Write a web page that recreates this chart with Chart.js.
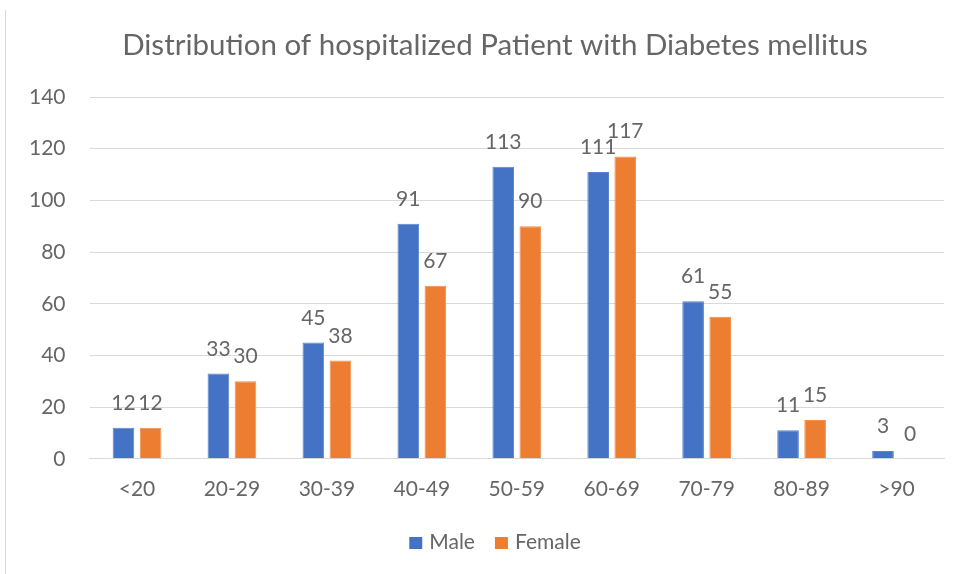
<!DOCTYPE html>
<html>
<head>
<meta charset="utf-8">
<script src="https://cdn.jsdelivr.net/npm/chart.js@4.4.1/dist/chart.umd.min.js"></script>
<style>
  html, body { margin: 0; padding: 0; background: #fff; }
  #wrap { position: relative; width: 956px; height: 574px; }
  #edge { position: absolute; left: 5px; top: 10px; width: 1px; height: 564px; background: #d9d9d9; }
  canvas { position: absolute; left: 0; top: 0; }
</style>
</head>
<body>
<div id="wrap">
  <div id="edge"></div>
  <canvas id="c" width="956" height="574"></canvas>
</div>
<script>
const categories = ["<20", "20-29", "30-39", "40-49", "50-59", "60-69", "70-79", "80-89", ">90"];
const maleValues = [12, 33, 45, 91, 113, 111, 61, 11, 3];
const femaleValues = [12, 30, 38, 67, 90, 117, 55, 15, 0];
const yTicks = [0, 20, 40, 60, 80, 100, 120, 140];
const titleText = 'Distribution of hospitalized Patient with Diabetes mellitus';

const FONT = "Lato, 'Open Sans', sans-serif";
const TEXT = "#666666";
const CENTER_X = 495;

const labelPlugin = {
  id: 'barLabels',
  afterDatasetsDraw(chart) {
    const ctx = chart.ctx;
    ctx.save();
    ctx.font = "21px " + FONT;
    ctx.fillStyle = TEXT;
    ctx.textAlign = 'center';
    ctx.textBaseline = 'alphabetic';
    chart.data.datasets.forEach((ds, i) => {
      const meta = chart.getDatasetMeta(i);
      meta.data.forEach((bar, j) => {
        ctx.fillText(String(ds.data[j]), bar.x, bar.y - 18);
      });
    });
    ctx.restore();
  }
};

// Title and legend drawn centred on the original chart frame (which is cropped on the right)
const frameTextPlugin = {
  id: 'frameText',
  afterDraw(chart) {
    const ctx = chart.ctx;
    ctx.save();
    ctx.fillStyle = TEXT;
    ctx.textBaseline = 'alphabetic';
    ctx.textAlign = 'center';
    ctx.font = "29.5px " + FONT;
    ctx.fillText(titleText, CENTER_X, 55);

    ctx.font = "21px " + FONT;
    ctx.textAlign = 'left';
    const box = 13, gapBox = 7, gapItem = 20;
    const items = chart.data.datasets.map(ds => ({ label: ds.label, color: ds.backgroundColor, w: ctx.measureText(ds.label).width }));
    let total = 0;
    items.forEach((it, i) => { total += box + gapBox + it.w + (i < items.length - 1 ? gapItem : 0); });
    let x = CENTER_X - total / 2;
    const baseline = 549;
    items.forEach(it => {
      ctx.fillStyle = it.color;
      ctx.fillRect(x, baseline - 12, box, box - 1);
      x += box + gapBox;
      ctx.fillStyle = TEXT;
      ctx.fillText(it.label, x, baseline);
      x += it.w + gapItem;
    });
    ctx.restore();
  }
};

new Chart(document.getElementById('c'), {
  type: 'bar',
  data: {
    labels: categories,
    datasets: [
      { label: 'Male', data: maleValues, backgroundColor: '#4472C4', borderColor: '#5a84cf', borderWidth: 1,
        categoryPercentage: 0.57, barPercentage: 0.8 },
      { label: 'Female', data: femaleValues, backgroundColor: '#ED7D31', borderColor: '#f08f4c', borderWidth: 1,
        categoryPercentage: 0.57, barPercentage: 0.8 }
    ]
  },
  options: {
    responsive: false,
    animation: false,
    layout: { padding: { left: 5, right: 12, top: 97, bottom: 54 } },
    plugins: {
      title: { display: false },
      legend: { display: false },
      tooltip: { enabled: false }
    },
    scales: {
      x: {
        grid: { display: false, drawTicks: false },
        border: { display: true, color: '#d9d9d9' },
        ticks: { color: TEXT, font: { family: FONT, size: 21 }, padding: 18 }
      },
      y: {
        min: 0, max: 140,
        afterBuildTicks(scale) { scale.ticks = yTicks.map(v => ({ value: v })); },
        grid: { color: '#d9d9d9', drawTicks: false },
        border: { display: false },
        ticks: { color: TEXT, font: { family: FONT, size: 21 }, padding: 24 }
      }
    }
  },
  plugins: [labelPlugin, frameTextPlugin]
});
</script>
</body>
</html>
